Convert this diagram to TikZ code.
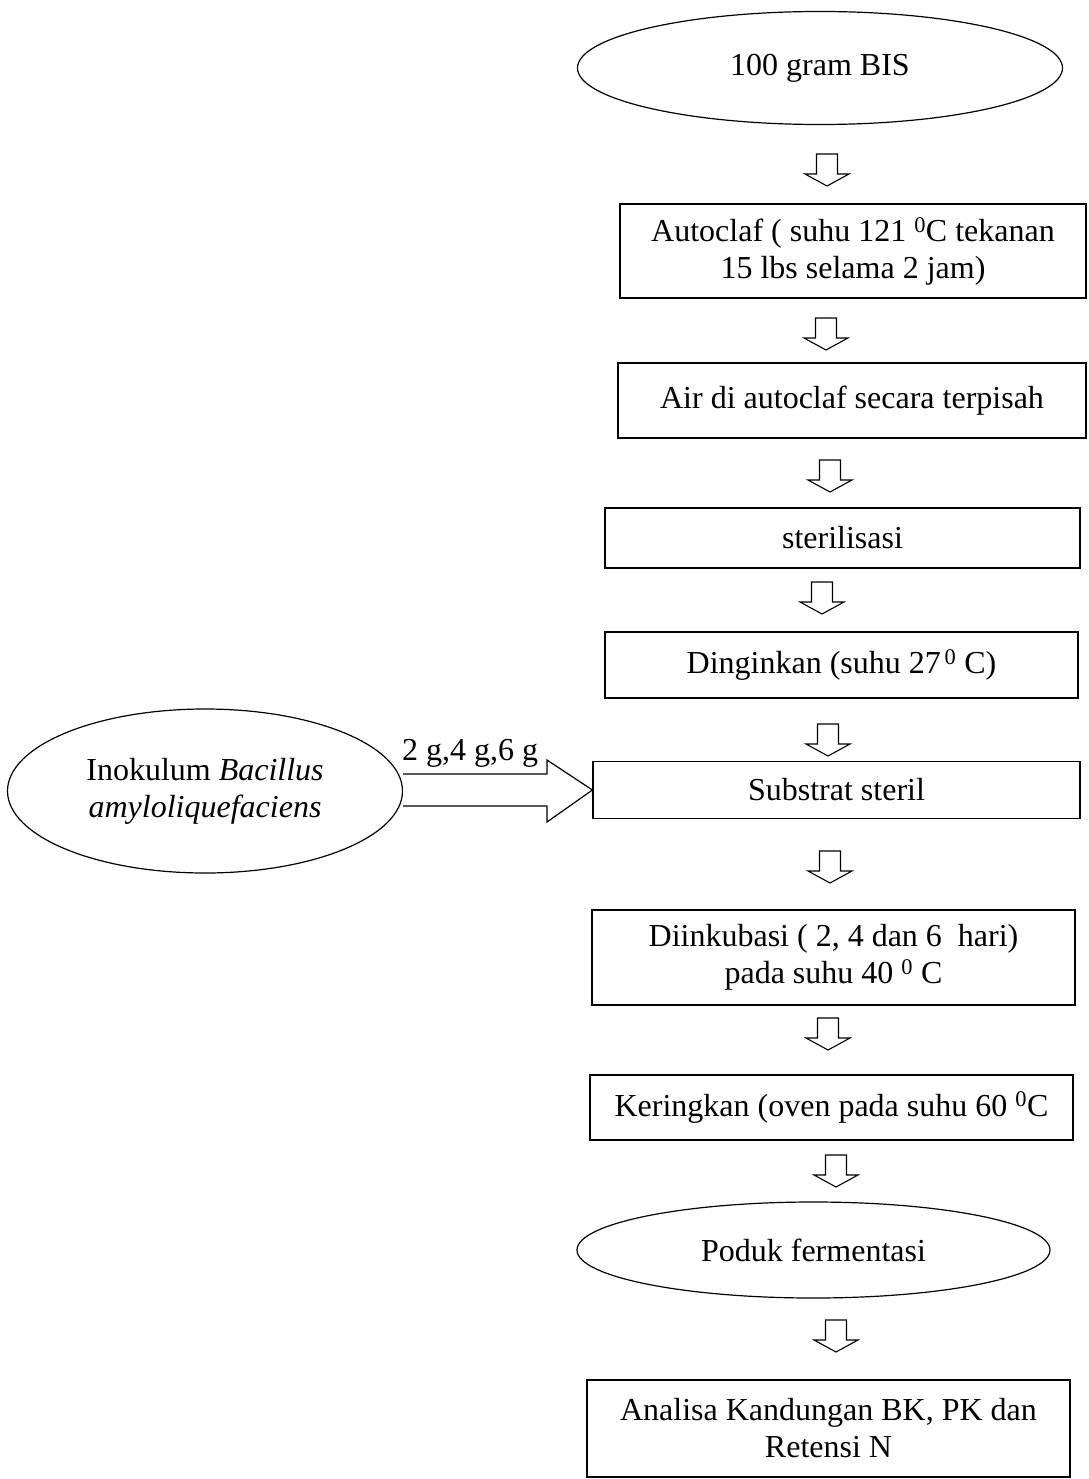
\documentclass[tikz,border=0pt]{standalone}
\usepackage{fontspec}
\setmainfont{Liberation Serif}
\usetikzlibrary{shapes.geometric}
\tikzset{
  txt/.style={font=\fontsize{32}{37}\selectfont},
  box/.style={txt, draw, line width=1.2pt, align=center, inner sep=0pt},
  oval/.style={txt, draw, ellipse, line width=1.2pt, align=center, inner sep=0pt},
  darrow/.pic={\draw[line width=1.1pt, fill=white, line join=miter]
     (-10.5,0) -- (10.5,0) -- (10.5,20) -- (22,20) -- (0,32) -- (-22,20) -- (-10.5,20) -- cycle;}
}
\begin{document}
\begin{tikzpicture}[x=1pt,y=-1pt]
\useasboundingbox[fill=white] (0,0) rectangle (1088,1479);
% nodes
\node[oval, minimum width=485, minimum height=113] (e1) at (820,68) {100 gram BIS};
\node[box, minimum width=466, minimum height=94] (b1) at (853,251) {Autoclaf ( suhu 121 \textsuperscript{0}C tekanan\\15 lbs selama 2 jam)};
\node[box, minimum width=468, minimum height=75] (b2) at (852,400.5) {Air di autoclaf secara terpisah};
\node[box, minimum width=475, minimum height=60] (b3) at (842.5,538) {sterilisasi};
\node[box, minimum width=473, minimum height=66] (b4) at (841.5,665) {Dinginkan (suhu 27\textsuperscript{\,0} C)};
\node[box, minimum width=487, minimum height=57] (b5) at (836.5,790) {Substrat steril};
\node[box, minimum width=483, minimum height=95] (b6) at (833.5,957.5) {Diinkubasi ( 2, 4 dan 6~ hari)\\pada suhu 40 \textsuperscript{0} C};
\node[box, minimum width=483, minimum height=65] (b7) at (831.5,1107.5) {Keringkan (oven pada suhu 60 \textsuperscript{0}C};
\node[oval, minimum width=473, minimum height=96] (e3) at (813.5,1250) {Poduk fermentasi};
\node[box, minimum width=483, minimum height=97] (b8) at (828.5,1428.5) {Analisa Kandungan BK, PK dan\\Retensi N};
\node[oval, minimum width=395, minimum height=164] (e2) at (205,791) {Inokulum \textit{Bacillus}\\\textit{amyloliquefaciens}};
% block arrows between steps
\pic at (827,154) {darrow};
\pic at (826,318) {darrow};
\pic at (830,460) {darrow};
\pic at (822,582) {darrow};
\pic at (828,724) {darrow};
\pic at (830,851) {darrow};
\pic at (828,1018) {darrow};
\pic at (836,1155) {darrow};
\pic at (836,1320) {darrow};
% horizontal block arrow from inoculum to substrate
\draw[line width=1.2pt, fill=white, line join=miter]
  (e2.east |- 0,774) -- (547,774) -- (547,760) -- (b5.west) -- (547,822) -- (547,806) -- (e2.east |- 0,806);
\node[txt, anchor=base] (lbl) at (470,760) {2 g,4 g,6 g};
\end{tikzpicture}
\end{document}
